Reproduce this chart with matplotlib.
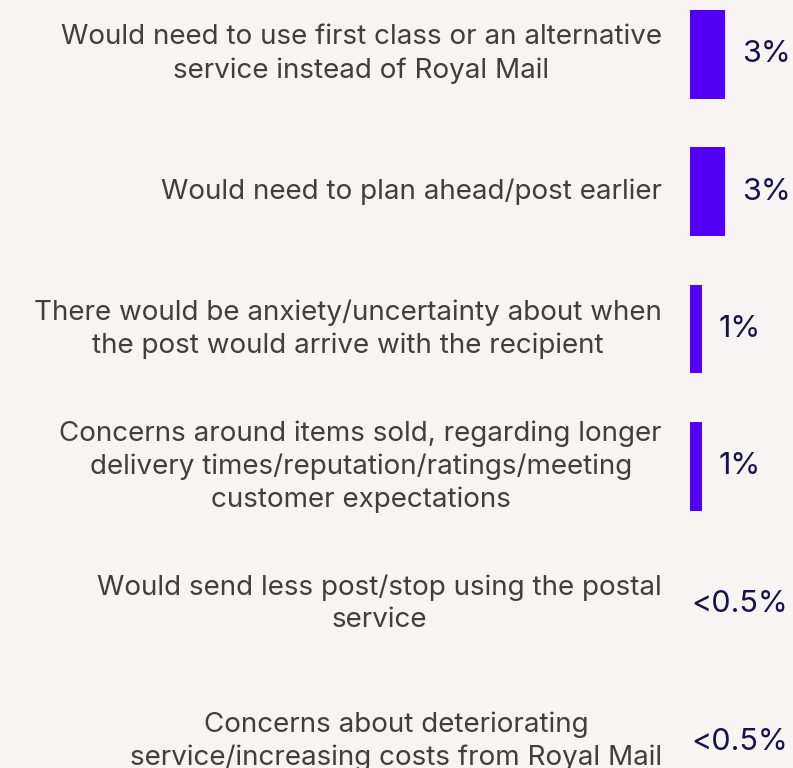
import matplotlib.pyplot as plt
import matplotlib.transforms as mtransforms

categories = [
    "Would need to use first class or an alternative\nservice instead of Royal Mail",
    "Would need to plan ahead/post earlier",
    "There would be anxiety/uncertainty about when\nthe post would arrive with the recipient",
    "Concerns around items sold, regarding longer\ndelivery times/reputation/ratings/meeting\ncustomer expectations",
    "Would send less post/stop using the postal\nservice",
    "Concerns about deteriorating\nservice/increasing costs from Royal Mail",
]
values = [3, 3, 1, 1, 0, 0]
value_labels = ["3%", "3%", "1%", "1%", "<0.5%", "<0.5%"]

BG = "#f7f4f3"
BAR = "#5200f5"
LABEL_COLOR = "#3f3f3f"
VALUE_COLOR = "#16134a"

W, H = 793, 768
fig = plt.figure(figsize=(W / 100, H / 100), dpi=100, facecolor=BG)
ax = fig.add_axes([690 / W, 0, (W - 690) / W, 1])
ax.set_facecolor(BG)

row_px = 137.5
ypos = list(range(len(categories)))
ax.barh(ypos, values, height=89 / row_px, color=BAR)
ax.set_xlim(0, (W - 690) / 11.7)
ax.set_ylim((H - 54) / row_px, -54 / row_px)
ax.axis("off")

# category labels sit just left of the bars, right-aligned, lines centred
label_tf = mtransforms.blended_transform_factory(fig.transFigure, ax.transData)
for y, text in zip(ypos, categories):
    ax.text(662 / W, y, text, transform=label_tf, ha="right", va="center",
            multialignment="center", fontsize=20, color=LABEL_COLOR,
            family="Inter", linespacing=1.32, clip_on=False)

for y, v, lab in zip(ypos, values, value_labels):
    ax.annotate(lab, (v, y), xytext=(12 if v > 0 else 1, 0), textcoords="offset points",
                ha="left", va="center", fontsize=22, color=VALUE_COLOR,
                family="Inter", annotation_clip=False)

fig.savefig("out.png", dpi=100, facecolor=BG)
